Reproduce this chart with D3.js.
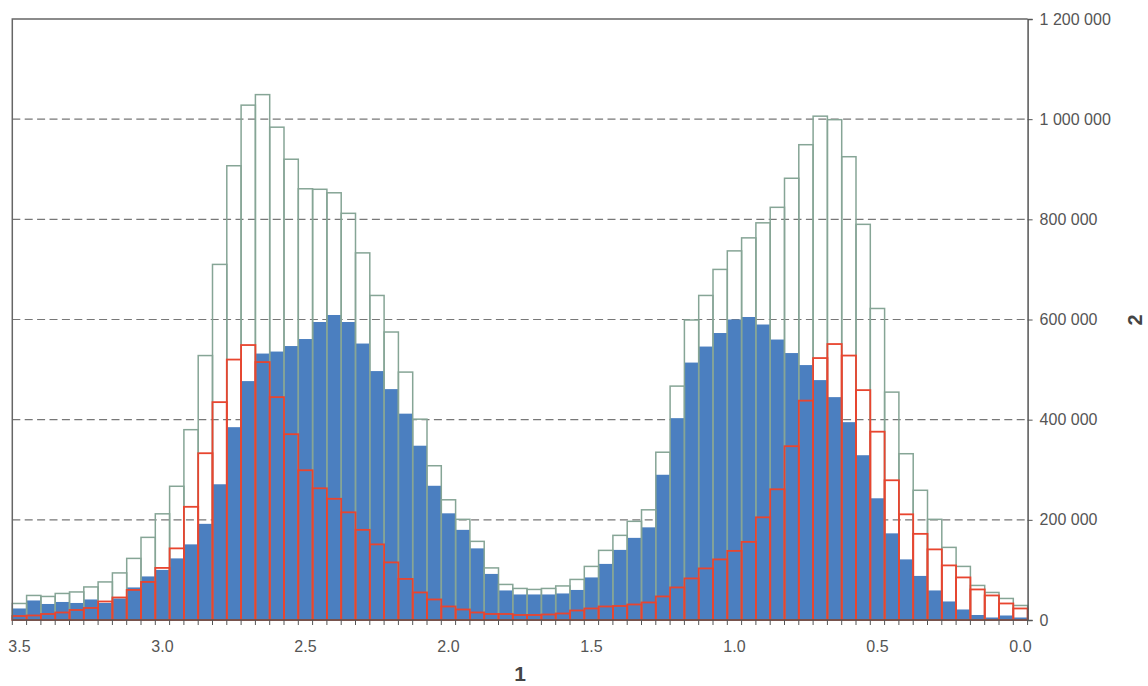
<!DOCTYPE html>
<html>
<head>
<meta charset="utf-8">
<script src="https://cdn.jsdelivr.net/npm/d3@7"></script>
<style>
  html, body { margin: 0; padding: 0; background: #fff; }
  svg { display: block; font-family: "Liberation Sans", Arial, sans-serif; }
</style>
</head>
<body>
<svg id="chart" width="1148" height="686"></svg>
<script>
// ---- data ----
const categories = d3.range(71).map(i => (3.5 - i * 0.05).toFixed(2));
const tickLabels = ["3.5", "3.0", "2.5", "2.0", "1.5", "1.0", "0.5", "0.0"];
const tickCategories = ["3.50", "3.00", "2.50", "2.00", "1.50", "1.00", "0.50", "0.00"];
const yTicks = [0, 200000, 400000, 600000, 800000, 1000000, 1200000];

// green outline series (thousands)
const seriesTotal = [
  33, 49, 47, 53, 56, 66, 76, 94, 123, 165,
  212, 267, 380, 528, 710, 907, 1028, 1049, 984, 920,
  861, 860, 853, 812, 733, 648, 575, 495, 401, 308,
  240, 201, 157, 104, 71, 63, 61, 63, 68, 81,
  107, 139, 169, 197, 220, 335, 467, 599, 648, 700,
  737, 763, 793, 824, 882, 949, 1006, 999, 925, 790,
  622, 455, 332, 259, 201, 145, 107, 69, 55, 43,
  29
];
// blue filled series (thousands)
const seriesBlue = [
  23, 39, 32, 36, 34, 41, 34, 43, 65, 87,
  100, 123, 151, 192, 271, 385, 477, 532, 536, 547,
  561, 595, 609, 595, 552, 497, 461, 412, 348, 268,
  213, 180, 143, 92, 59, 51, 51, 51, 53, 60,
  85, 112, 140, 164, 185, 290, 403, 514, 546, 573,
  600, 605, 590, 560, 533, 509, 479, 445, 395, 329,
  243, 173, 121, 88, 59, 37, 21, 10, 5, 9,
  5
];
// red outline series (thousands)
const seriesRed = [
  8, 9, 12, 15, 20, 24, 37, 45, 60, 76,
  104, 143, 226, 333, 435, 520, 549, 515, 445, 371,
  299, 263, 242, 215, 180, 151, 115, 82, 55, 41,
  27, 21, 15, 12, 12, 10, 10, 11, 13, 19,
  23, 27, 28, 31, 35, 47, 65, 83, 103, 121,
  138, 156, 205, 261, 347, 438, 523, 551, 528, 459,
  376, 279, 211, 172, 141, 109, 85, 61, 49, 33,
  23
];
const xTitle = "1";
const yTitle = "2";

// ---- layout ----
const svg = d3.select("#chart");
const pLeft = 12.3, pRight = 1027.6, pTop = 19, pBottom = 620;

const x = d3.scaleBand().domain(categories).range([pLeft, pRight]).paddingInner(0).paddingOuter(0);
const y = d3.scaleLinear().domain([0, 1200000]).range([pBottom, pTop]);

// gridlines
svg.append("g").selectAll("line")
  .data(yTicks.filter(v => v > 0 && v < 1200000))
  .join("line")
  .attr("x1", pLeft).attr("x2", pRight)
  .attr("y1", d => y(d)).attr("y2", d => y(d))
  .attr("stroke", "#777").attr("stroke-width", 1.2)
  .attr("stroke-dasharray", "8,4.4");

const bw = x.bandwidth();
const toData = arr => arr.map((v, i) => ({ c: categories[i], v: v * 1000 }));

// blue filled bars
svg.append("g").selectAll("rect")
  .data(toData(seriesBlue))
  .join("rect")
  .attr("x", d => x(d.c)).attr("width", bw)
  .attr("y", d => y(d.v)).attr("height", d => pBottom - y(d.v))
  .attr("fill", "#4b7fc0");

// green outline bars
svg.append("g").selectAll("rect")
  .data(toData(seriesTotal))
  .join("rect")
  .attr("x", d => x(d.c)).attr("width", bw)
  .attr("y", d => y(d.v)).attr("height", d => pBottom - y(d.v))
  .attr("fill", "none").attr("stroke", "#86a596").attr("stroke-width", 1.5);

// red outline bars
svg.append("g").selectAll("rect")
  .data(toData(seriesRed))
  .join("rect")
  .attr("x", d => x(d.c)).attr("width", bw)
  .attr("y", d => y(d.v)).attr("height", d => pBottom - y(d.v))
  .attr("fill", "none").attr("stroke", "#e8452f").attr("stroke-width", 1.8);

// frame (left + top)
svg.append("path")
  .attr("d", `M${pLeft},${pBottom}V${pTop}H${pRight}`)
  .attr("fill", "none").attr("stroke", "#666").attr("stroke-width", 1.5);

// bottom axis: ticks at band edges, labels at band centers
const axisCol = "#555";
svg.append("line")
  .attr("x1", pLeft).attr("x2", pRight).attr("y1", pBottom).attr("y2", pBottom)
  .attr("stroke", axisCol).attr("stroke-width", 1.5);
const edges = categories.map(c => x(c)).concat([pRight]);
svg.append("g").selectAll("line")
  .data(edges).join("line")
  .attr("x1", d => d).attr("x2", d => d)
  .attr("y1", pBottom).attr("y2", pBottom + 5)
  .attr("stroke", axisCol).attr("stroke-width", 1);
svg.append("g").selectAll("text")
  .data(tickCategories).join("text")
  .attr("x", d => x(d) + bw / 2)
  .attr("y", 652)
  .attr("text-anchor", "middle")
  .attr("font-size", 16)
  .attr("fill", "#555")
  .text((d, i) => tickLabels[i]);

// right axis
const yAxis = d3.axisRight(y).tickValues(yTicks).tickSize(5).tickPadding(7)
  .tickFormat(d => d3.format(",")(d).replace(/,/g, " "));
const gy = svg.append("g").attr("transform", `translate(${pRight},0)`).call(yAxis);
gy.select(".domain").attr("stroke", axisCol).attr("stroke-width", 1.5);
gy.selectAll(".tick line").attr("stroke", axisCol);
gy.selectAll(".tick text").attr("font-size", 16).attr("fill", "#555")
  .attr("font-family", "'Liberation Sans', Arial, sans-serif");

// titles
svg.append("text")
  .attr("x", 520).attr("y", 681)
  .attr("text-anchor", "middle")
  .attr("font-size", 21).attr("font-weight", "bold").attr("fill", "#444")
  .text(xTitle);
svg.append("text")
  .attr("transform", "translate(1142,320) rotate(-90)")
  .attr("text-anchor", "middle")
  .attr("font-size", 20).attr("font-weight", "bold").attr("fill", "#444")
  .text(yTitle);
</script>
</body>
</html>
